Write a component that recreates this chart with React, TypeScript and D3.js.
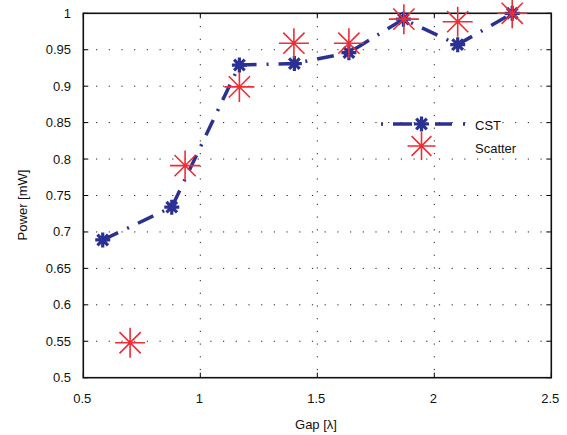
import React from "react";
import * as d3 from "d3";

const xTicks = [0.5, 1, 1.5, 2, 2.5];
const yTicks = [0.5, 0.55, 0.6, 0.65, 0.7, 0.75, 0.8, 0.85, 0.9, 0.95, 1];
const yTickLabels = ["0.5", "0.55", "0.6", "0.65", "0.7", "0.75", "0.8", "0.85", "0.9", "0.95", "1"];
const xTickLabels = ["0.5", "1", "1.5", "2", "2.5"];

const cstGap = [0.583, 0.878, 1.167, 1.402, 1.635, 1.868, 2.1, 2.333];
const cstPower = [0.689, 0.734, 0.929, 0.931, 0.946, 0.992, 0.957, 1.0];

const scatterGap = [0.7, 0.935, 1.167, 1.4, 1.635, 1.87, 2.1, 2.333];
const scatterPower = [0.548, 0.791, 0.899, 0.959, 0.959, 0.992, 0.9885, 1.0];

const seriesNames = ["CST", "Scatter"];

const BLUE = "#2B3193";
const RED = "#EE2D36";
const FONT = "'Liberation Sans', Arial, Helvetica, sans-serif";

const W = 567, H = 435;
const L = 83.3, R = 551.3, T = 13.3, B = 377.7;

function asterisk(cx: number, cy: number, r: number) {
  const segs: string[] = [];
  for (let k = 0; k < 4; k++) {
    const a = (k * Math.PI) / 4;
    const dx = r * Math.cos(a), dy = r * Math.sin(a);
    segs.push(`M${cx - dx},${cy - dy}L${cx + dx},${cy + dy}`);
  }
  return segs.join("");
}

export default function App() {
  const x = d3.scaleLinear().domain([0.5, 2.5]).range([L, R]);
  const y = d3.scaleLinear().domain([0.5, 1]).range([B, T]);
  const line = d3.line<number>().x((_, i) => x(cstGap[i])).y((d) => y(d));
  const dash = "17,10,2,10";

  const legX1 = 381, legX2 = 465, legY1 = 124, legY2 = 146, legM = 421.5;

  return (
    <svg width={W} height={H} style={{ position: "absolute", left: 0, top: 0, background: "#fff" }} fontFamily={FONT}>
      <rect x={0} y={0} width={W} height={H} fill="#fff" />
      {/* grid */}
      {xTicks.slice(1, -1).map((t) => (
        <line key={"gx" + t} x1={x(t)} x2={x(t)} y1={T} y2={B} stroke="#222" strokeWidth={1} strokeDasharray="1.2,11.5" />
      ))}
      {yTicks.slice(1, -1).map((t) => (
        <line key={"gy" + t} x1={L} x2={R} y1={y(t)} y2={y(t)} stroke="#222" strokeWidth={1} strokeDasharray="1.2,11.5" />
      ))}
      {/* ticks inward */}
      {xTicks.map((t) => (
        <g key={"tx" + t}>
          <line x1={x(t)} x2={x(t)} y1={B} y2={B - 5} stroke="#000" strokeWidth={1} />
          <line x1={x(t)} x2={x(t)} y1={T} y2={T + 5} stroke="#000" strokeWidth={1} />
        </g>
      ))}
      {yTicks.map((t) => (
        <g key={"ty" + t}>
          <line x1={L} x2={L + 5} y1={y(t)} y2={y(t)} stroke="#000" strokeWidth={1} />
          <line x1={R} x2={R - 5} y1={y(t)} y2={y(t)} stroke="#000" strokeWidth={1} />
        </g>
      ))}
      {/* frame */}
      <rect x={L} y={T} width={R - L} height={B - T} fill="none" stroke="#111" strokeWidth={1.6} />
      {/* tick labels */}
      {xTicks.map((t, i) => (
        <text key={"xl" + t} x={x(t) - 1} y={403} textAnchor="middle" fontSize={13} fill="#111">
          {xTickLabels[i]}
        </text>
      ))}
      {yTicks.map((t, i) => (
        <text key={"yl" + t} x={71} y={y(t)} dy="0.35em" textAnchor="end" fontSize={13} fill="#111">
          {yTickLabels[i]}
        </text>
      ))}
      <text x={316} y={429} textAnchor="middle" fontSize={13} fill="#111">Gap [λ]</text>
      <text transform={`translate(27,205) rotate(-90)`} textAnchor="middle" fontSize={13} fill="#111">Power [mW]</text>

      {/* CST line */}
      <path d={line(cstPower) || ""} fill="none" stroke={BLUE} strokeWidth={3.5} strokeDasharray={dash} />
      {cstPower.map((p, i) => (
        <path key={"cm" + i} d={asterisk(x(cstGap[i]), y(p), 7.5)} stroke={BLUE} strokeWidth={3.2} fill="none" />
      ))}
      {/* scatter */}
      {scatterPower.map((p, i) => (
        <path key={"sm" + i} d={asterisk(x(scatterGap[i]), y(p), 15)} stroke={RED} strokeWidth={1.6} fill="none" />
      ))}

      {/* legend */}
      <line x1={legX1} x2={legX2} y1={legY1} y2={legY1} stroke={BLUE} strokeWidth={3.5} strokeDasharray="2,10,19,23,17,11,2" />
      <path d={asterisk(legM, legY1, 7.5)} stroke={BLUE} strokeWidth={3.2} fill="none" />
      <path d={asterisk(legM, legY2, 14)} stroke={RED} strokeWidth={1.6} fill="none" />
      <text x={475} y={125} dy="0.35em" fontSize={13} fill="#111">{seriesNames[0]}</text>
      <text x={475} y={148} dy="0.35em" fontSize={13} fill="#111">{seriesNames[1]}</text>
    </svg>
  );
}
